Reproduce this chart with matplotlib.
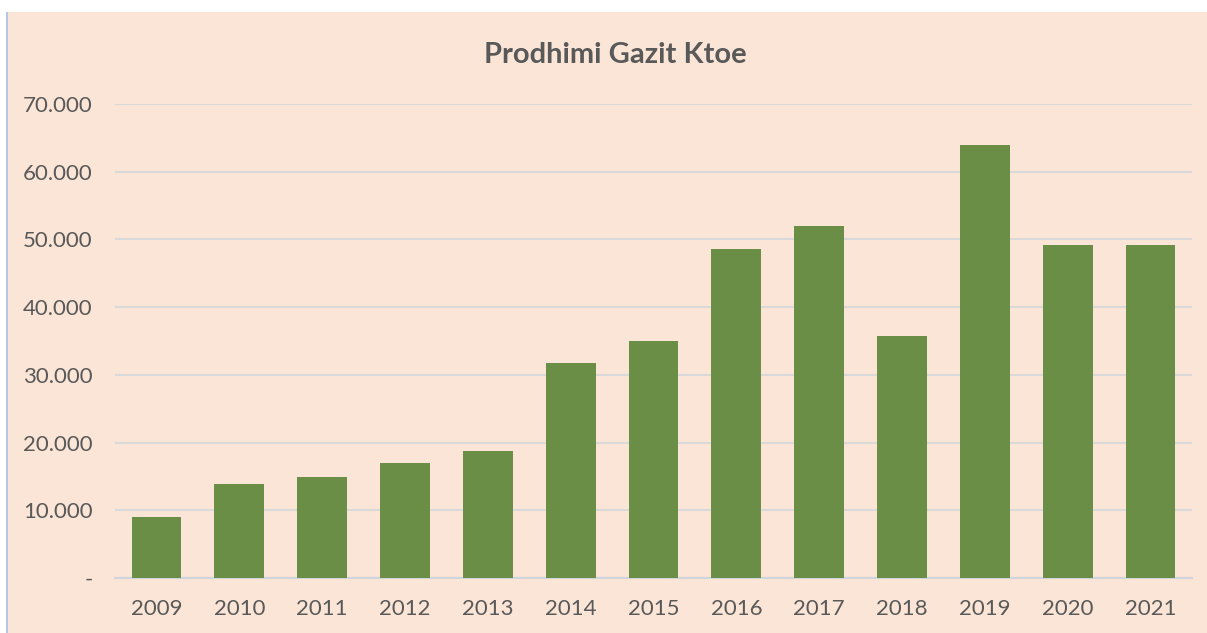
import matplotlib
matplotlib.use("Agg")
import matplotlib.pyplot as plt
from matplotlib.patches import Rectangle
from matplotlib.ticker import FuncFormatter

YEARS = ["2009", "2010", "2011", "2012", "2013", "2014", "2015",
         "2016", "2017", "2018", "2019", "2020", "2021"]
GAS_KTOE = [9000, 13900, 14850, 17000, 18800, 31800, 35000,
            48600, 52000, 35800, 64000, 49200, 49200]
Y_TICKS = [0, 10000, 20000, 30000, 40000, 50000, 60000, 70000]
TITLE = "Prodhimi Gazit Ktoe"

BG = "#FBE5D6"
BAR = "#6A8E45"
TXT = "#595959"
GRID = "#D9D9D9"

plt.rcParams["font.family"] = ["Lato", "DejaVu Sans"]

W, H = 1207, 633
fig = plt.figure(figsize=(W / 100, H / 100), dpi=100, facecolor="white")
# peach chart area with a thin white margin top/left like the screenshot
fig.patches.append(Rectangle((8 / W, 0), 1 - 8 / W, 1 - 12 / H,
                             transform=fig.transFigure, facecolor=BG,
                             edgecolor="none", zorder=-2))
fig.patches.append(Rectangle((6 / W, 0), 2 / W, 1 - 12 / H,
                             transform=fig.transFigure, facecolor="#B4C7E7",
                             edgecolor="none", zorder=-2))

ax = fig.add_axes([115 / W, 55 / H, (1192 - 115) / W, (578 - 104) / H])
ax.set_facecolor("none")
ax.set_zorder(1)

x = range(len(YEARS))
ax.bar(x, GAS_KTOE, width=0.6, color=BAR, zorder=3)

ax.set_xlim(-0.5, len(YEARS) - 0.5)
ax.set_ylim(0, 70000)
ax.set_yticks(Y_TICKS)
ax.set_xticks(list(x))
ax.set_xticklabels(YEARS)


def fmt(v, _):
    if v == 0:
        return "-"
    return f"{v:,.0f}".replace(",", ".")


ax.yaxis.set_major_formatter(FuncFormatter(fmt))
ax.grid(axis="y", color=GRID, lw=1.5, zorder=0)
for s in ("top", "right", "left"):
    ax.spines[s].set_visible(False)
ax.spines["bottom"].set_color("#D0D4DC")
ax.spines["bottom"].set_linewidth(1.5)
ax.tick_params(axis="both", length=0, labelsize=16, labelcolor=TXT)
ax.tick_params(axis="y", pad=16)
ax.tick_params(axis="x", pad=15)

fig.text(615 / W, 1 - 55 / H, TITLE, ha="center", va="center",
         fontsize=21, fontweight="bold", color=TXT)

fig.savefig("out.png", dpi=100, facecolor=fig.get_facecolor())
